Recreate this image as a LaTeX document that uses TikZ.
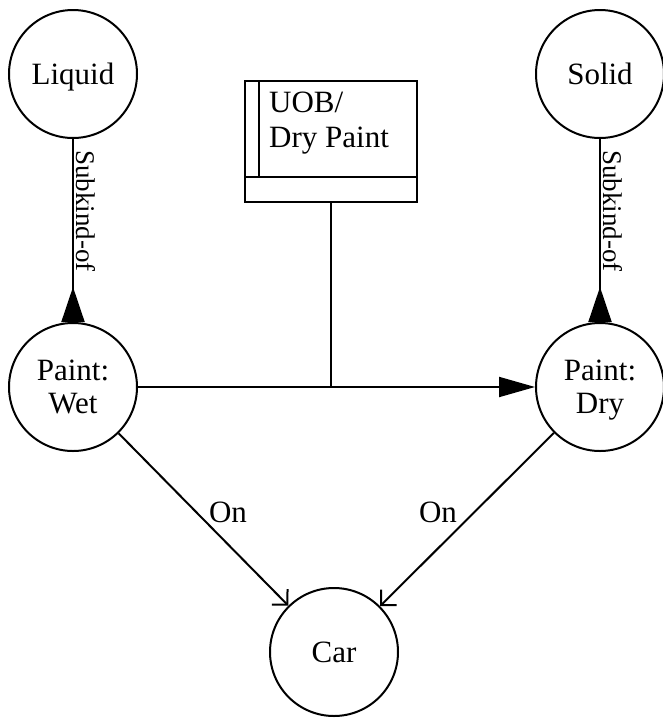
\documentclass[tikz,border=0pt]{standalone}
\usepackage{fontspec}
\setmainfont{Liberation Serif}
\usetikzlibrary{arrows.meta,calc}
\begin{document}
\begin{tikzpicture}[x=1pt,y=-1pt,
  every node/.style={font=\fontsize{31}{33}\selectfont},
  concept/.style={circle,draw,line width=2pt,minimum size=128pt,inner sep=0pt,align=center,text depth=0pt},
  link/.style={line width=2pt},
  uobbox/.style={draw,line width=2pt,minimum width=172pt,minimum height=121pt,inner sep=0pt,outer sep=0pt},
  lbl/.style={rotate=-90,anchor=south,inner sep=3pt,font=\fontsize{27}{30}\selectfont},
  subk/.style={link,{Triangle[reversed,length=35pt,width=23pt]}-},
  onarrow/.style={link,-{Straight Barb[angle=90:15.5pt]}},
  uobarrow/.style={link,-{Triangle[length=36pt,width=20pt]}}
]
\useasboundingbox (0,0) rectangle (663,721);

\node[concept] (liquid) at (73,74) {Liquid};
\node[concept] (solid) at (600,74) {Solid};
\node[concept] (wet) at (73,387) {Paint:\\Wet};
\node[concept] (dry) at (600,387) {Paint:\\Dry};
\node[concept] (car) at (334,652) {Car};

\node[uobbox] (uob) at (331,141.5) {};
\coordinate (hl) at ($(uob.south west)+(0,-25.5)$);
\coordinate (hr) at ($(uob.south east)+(0,-25.5)$);
\coordinate (vt) at ($(uob.north west)+(14,0)$);
\draw[link] (hl) -- (hr);
\draw[link] (vt) -- (vt |- hl);
\node[anchor=north west,inner sep=0pt,align=left,font=\fontsize{31}{35}\selectfont] (uobtext) at (269,92) {UOB/\\Dry Paint};

% subkind-of
\draw[subk] (wet) -- (liquid);
\draw[subk] (dry) -- (solid);
\node[lbl] (lblL) at ($(liquid.south)!0.393!(wet.north)$) {Subkind-of};
\node[lbl] (lblR) at ($(solid.south)!0.393!(dry.north)$) {Subkind-of};

% wet to dry
\draw[uobarrow] (wet) -- (dry);
\coordinate (join) at (uob.south |- wet.east);
\draw[link] (uob.south) -- (join);

% on
\draw[onarrow] (wet) -- (car);
\draw[onarrow] (dry) -- (car);
\node (onL) at (228,512.5) {On};
\node (onR) at (438,512.5) {On};
\end{tikzpicture}
\end{document}
